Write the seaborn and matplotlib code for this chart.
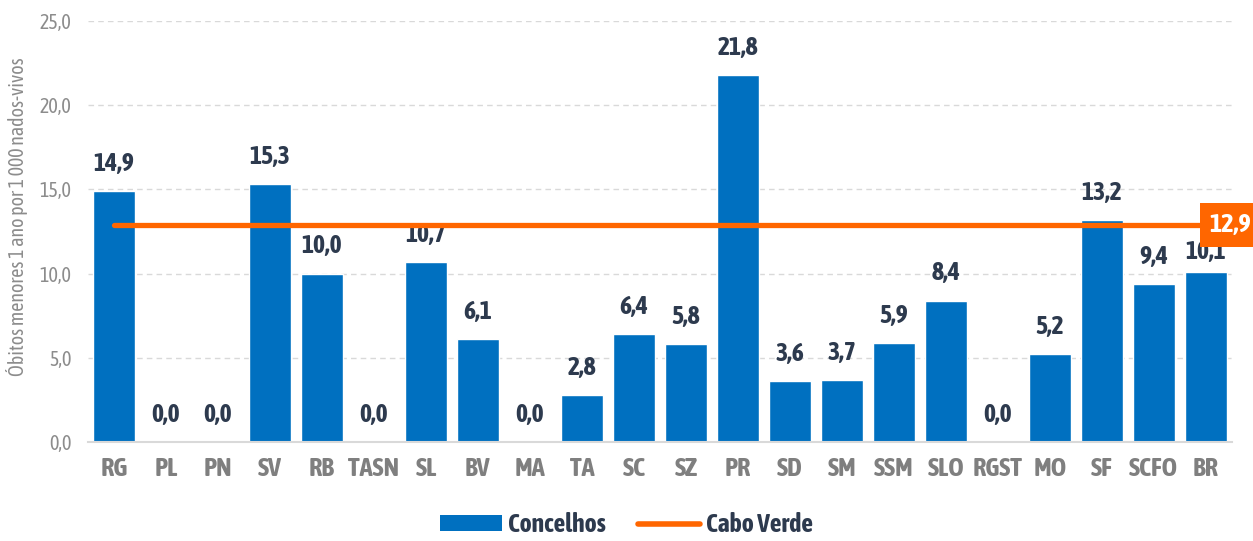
import matplotlib
matplotlib.use("Agg")
import matplotlib.pyplot as plt
import matplotlib.font_manager as fm
import matplotlib.patheffects as pe
from matplotlib.patches import Patch
from matplotlib.lines import Line2D
import seaborn as sns
import pandas as pd

concelhos = ["RG", "PL", "PN", "SV", "RB", "TASN", "SL", "BV", "MA", "TA", "SC",
             "SZ", "PR", "SD", "SM", "SSM", "SLO", "RGST", "MO", "SF", "SCFO", "BR"]
taxas = [14.9, 0.0, 0.0, 15.3, 10.0, 0.0, 10.7, 6.1, 0.0, 2.8, 6.4,
         5.8, 21.8, 3.6, 3.7, 5.9, 8.4, 0.0, 5.2, 13.2, 9.4, 10.1]
cabo_verde = 12.9
yticks = [0, 5, 10, 15, 20, 25]

# pick a condensed sans face; prefer one that ships a real bold weight
entries = [f for f in fm.fontManager.ttflist
           if "Narrow" in f.name or "Condensed" in f.name]
def _w(f):
    w = f.weight
    return w if isinstance(w, int) else {"bold": 700}.get(w, 400)
bold_fams = sorted({f.name for f in entries if _w(f) >= 600})
all_fams = sorted({f.name for f in entries})
if bold_fams:
    base, fake_bold = bold_fams[0], False
elif all_fams:
    base, fake_bold = all_fams[0], True
else:
    base, fake_bold = "Liberation Sans", False

sns.set_theme(style="white")
plt.rcParams["font.family"] = [base, "DejaVu Sans"]

BLUE = "#0070C0"
ORANGE = "#FF6600"
NAVY = "#2D3A4E"
GREY = "#7F7F7F"
LIGHT_GREY = "#8C8C8C"


def heavy(color, width=1.0):
    # thicken glyph outlines when the face has no bold weight
    if not fake_bold:
        return []
    return [pe.withStroke(linewidth=width, foreground=color)]


df = pd.DataFrame({"Concelho": concelhos, "Taxa": taxas})

fig = plt.figure(figsize=(12.53, 5.41), dpi=100)
ax = fig.add_axes([0.0702, 0.183, 0.9128, 0.778])

sns.barplot(data=df, x="Concelho", y="Taxa", color=BLUE, saturation=1,
            width=0.81, ax=ax, zorder=2)

for i, v in enumerate(taxas):
    gap = 0.45 if concelhos[i] == "BR" else 0.9
    ax.text(i, v + gap, f"{v:.1f}".replace(".", ","), ha="center", va="bottom",
            fontsize=18.5, fontweight="bold", color=NAVY,
            path_effects=heavy(NAVY, 1.1))

ax.plot([0, 21.5], [cabo_verde, cabo_verde], color=ORANGE, lw=3.8,
        solid_capstyle="round", zorder=3, clip_on=False)
ax.text(21.06, cabo_verde, f"{cabo_verde:.1f}".replace(".", ","), ha="left",
        va="center", fontsize=19, fontweight="bold", color="white", zorder=4,
        clip_on=False, path_effects=heavy("white", 1.2),
        bbox=dict(boxstyle="square,pad=0.35", fc=ORANGE, ec="none"))

ax.set_xlim(-0.5, 21.5)
ax.set_ylim(0, 25)
ax.set_yticks(yticks)
ax.set_yticklabels([f"{t:.1f}".replace(".", ",") for t in yticks],
                   fontsize=14.5, color=LIGHT_GREY)
ax.tick_params(axis="x", length=0, pad=10, labelsize=19, labelcolor=GREY)
ax.tick_params(axis="y", length=0, pad=12)
for lbl in ax.get_xticklabels():
    lbl.set_fontweight("bold")
    lbl.set_path_effects(heavy(GREY, 1.0))

ax.yaxis.grid(True, linestyle=(0, (4, 3)), color="#D9D9D9", lw=1, zorder=0)
ax.set_axisbelow(True)
for s in ["top", "right", "left"]:
    ax.spines[s].set_visible(False)
ax.spines["bottom"].set_color("#D9D9D9")
ax.spines["bottom"].set_linewidth(1.5)

ax.set_xlabel("")
ax.set_ylabel("Óbitos menores 1 ano por 1 000 nados-vivos",
              fontsize=14.4, color=LIGHT_GREY)
ax.yaxis.set_label_coords(-0.052, 0.535)

handles = [Patch(facecolor=BLUE, edgecolor="none", label="Concelhos"),
           Line2D([0], [0], color=ORANGE, lw=4, solid_capstyle="round",
                  label="Cabo Verde")]
leg = fig.legend(handles=handles, loc="center", bbox_to_anchor=(0.5, 0.03),
                 ncol=2, frameon=False, handlelength=2.4, handleheight=0.6,
                 columnspacing=1.25, handletextpad=0.25,
                 prop=dict(family=[base, "DejaVu Sans"], weight="bold", size=18.5),
                 labelcolor=NAVY)
for t in leg.get_texts():
    t.set_path_effects(heavy(NAVY, 1.0))

fig.savefig("out.png", dpi=100)
